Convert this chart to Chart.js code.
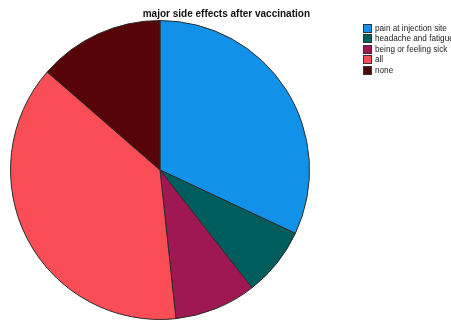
<!DOCTYPE html>
<html>
<head>
<meta charset="utf-8">
<script src="https://cdn.jsdelivr.net/npm/chart.js@4/dist/chart.umd.min.js"></script>
<style>
  body { margin: 0; background: #fff; }
  .wrap { position: relative; width: 451px; height: 320px; overflow: hidden; }
  #legend { position: absolute; left: 363px; top: 23px; font: 8.2px "Liberation Sans", Arial, sans-serif; color: #222; white-space: nowrap; }
  #legend div { height: 10.5px; display: flex; align-items: center; }
  #legend span.box { width: 7px; height: 7px; border: 1px solid #333; margin-right: 3px; box-sizing: content-box; }
</style>
</head>
<body>
<div class="wrap">
  <canvas id="chart" width="451" height="320"></canvas>
  <div id="legend"></div>
</div>
<script>
const labels = ['pain at injection site', 'headache and fatigue', 'being or feeling sick', 'all', 'none'];
const counts = [47, 11, 13, 56, 20];
const colors = ['#1192e8', '#005d5d', '#9f1853', '#fa4d56', '#570408'];

const ctx = document.getElementById('chart').getContext('2d');

new Chart(ctx, {
  type: 'pie',
  data: {
    labels: labels,
    datasets: [{
      data: counts,
      backgroundColor: colors,
      borderColor: '#2b2b2b',
      borderWidth: 1,
    }],
  },
  options: {
    responsive: false,
    animation: false,
    layout: {
      padding: { left: 10, right: 141, top: 0, bottom: 0 },
    },
    plugins: {
      legend: { display: false },
      tooltip: { enabled: false },
      title: {
        display: true,
        text: 'major side effects after vaccination',
        align: 'end',
        color: '#111',
        font: { family: '"Liberation Sans", Arial, sans-serif', size: 10, weight: 'bold' },
        padding: { top: 8, bottom: 0 },
      },
    },
  },
});

// legend on the right, built from the same arrays
const legendEl = document.getElementById('legend');
labels.forEach((label, i) => {
  const row = document.createElement('div');
  const box = document.createElement('span');
  box.className = 'box';
  box.style.background = colors[i];
  row.appendChild(box);
  row.appendChild(document.createTextNode(label));
  legendEl.appendChild(row);
});
</script>
</body>
</html>
